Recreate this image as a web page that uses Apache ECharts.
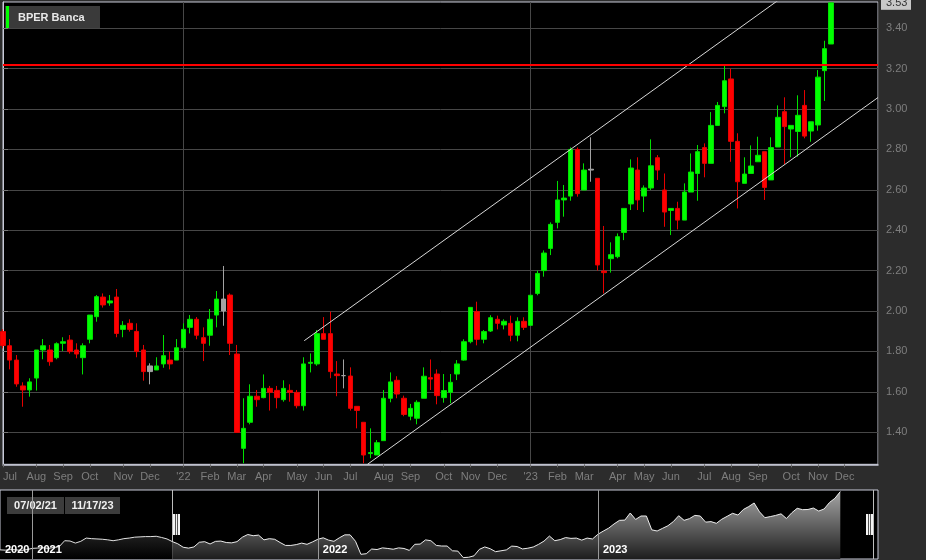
<!DOCTYPE html>
<html><head><meta charset="utf-8">
<script src="https://cdn.jsdelivr.net/npm/echarts@6/dist/echarts.min.js"></script>
<style>html,body{margin:0;padding:0;background:#2c2c2c;}#c{width:926px;height:560px;}</style>
</head><body><div id="c"></div>
<script>
const seriesName = 'BPER Banca';
const startDate = '2021-07-02';
const navStartDate = '2020-11-20';
const monthNames = ['Jan','Feb','Mar','Apr','May','Jun','Jul','Aug','Sep','Oct','Nov','Dec'];
const yTicks = [1.4,1.6,1.8,2.0,2.2,2.4,2.6,2.8,3.0,3.2,3.4];
const opens = [
 1.898,1.828,1.757,1.629,1.609,1.668,1.807,1.807,1.769,1.840,
 1.856,1.807,1.769,1.860,1.972,2.069,2.040,2.069,1.909,1.939,
 1.899,1.807,1.728,1.708,1.738,1.757,1.757,1.818,1.919,1.959,
 1.868,1.880,1.980,2.000,2.079,1.787,1.320,1.449,1.578,1.571,
 1.617,1.607,1.561,1.607,1.597,1.531,1.741,1.738,1.888,1.888,
 1.688,1.680,1.678,1.528,1.449,1.294,1.287,1.358,1.568,1.657,
 1.568,1.479,1.469,1.568,1.670,1.688,1.571,1.597,1.688,1.757,
 1.848,1.997,1.860,1.901,1.959,1.931,1.939,1.880,1.949,1.929,
 2.087,2.200,2.310,2.439,2.550,2.569,2.800,2.599,2.702,2.657,
 2.198,2.259,2.269,2.389,2.530,2.698,2.569,2.609,2.759,2.599,
 2.498,2.508,2.450,2.589,2.681,2.809,2.731,2.919,3.012,3.149,
 2.840,2.632,2.681,2.739,2.789,2.649,2.812,2.987,2.901,2.889,
 3.018,2.891,2.921,3.190,3.322];
const closes = [
 1.829,1.757,1.639,1.609,1.649,1.807,1.828,1.749,1.838,1.848,
 1.799,1.787,1.828,1.980,2.071,2.030,2.050,1.889,1.929,1.909,
 1.799,1.700,1.700,1.728,1.779,1.738,1.818,1.909,1.959,1.880,
 1.840,1.959,2.059,2.059,1.840,1.399,1.419,1.578,1.561,1.617,
 1.597,1.571,1.617,1.597,1.531,1.738,1.746,1.888,1.860,1.700,
 1.680,1.680,1.518,1.508,1.287,1.299,1.348,1.568,1.649,1.589,
 1.488,1.518,1.548,1.677,1.663,1.581,1.606,1.647,1.738,1.848,
 2.018,1.860,1.898,1.967,1.939,1.949,1.880,1.949,1.919,2.078,
 2.186,2.287,2.429,2.550,2.559,2.800,2.581,2.698,2.698,2.228,
 2.190,2.279,2.368,2.508,2.708,2.550,2.609,2.719,2.698,2.490,
 2.508,2.450,2.589,2.688,2.789,2.731,2.919,3.018,3.140,2.840,
 2.640,2.678,2.718,2.771,2.612,2.809,2.959,2.913,2.919,2.969,
 2.866,2.937,3.158,3.299,3.526];
const lows = [
 1.815,1.711,1.625,1.526,1.576,1.606,1.761,1.729,1.761,1.802,
 1.789,1.766,1.686,1.840,1.947,2.017,2.026,1.870,1.870,1.898,
 1.771,1.655,1.637,1.708,1.719,1.711,1.757,1.818,1.889,1.860,
 1.752,1.828,1.919,1.927,1.782,1.399,1.246,1.439,1.526,1.568,
 1.507,1.518,1.551,1.551,1.518,1.507,1.696,1.729,1.860,1.667,
 1.578,1.617,1.507,1.419,1.246,1.271,1.287,1.358,1.548,1.568,
 1.479,1.459,1.439,1.568,1.609,1.538,1.546,1.543,1.658,1.754,
 1.840,1.830,1.840,1.896,1.909,1.909,1.850,1.850,1.906,1.929,
 2.078,2.170,2.277,2.409,2.467,2.546,2.566,2.599,2.640,2.200,
 2.087,2.190,2.261,2.351,2.500,2.500,2.490,2.599,2.649,2.417,
 2.376,2.404,2.450,2.589,2.546,2.662,2.731,2.919,2.979,2.739,
 2.508,2.632,2.681,2.739,2.550,2.649,2.812,2.728,2.761,2.764,
 2.855,2.838,2.893,3.040,3.322];
const highs = [
 1.910,1.861,1.782,1.647,1.667,1.807,1.861,1.832,1.845,1.870,
 1.881,1.840,1.840,1.980,2.079,2.087,2.079,2.109,1.950,1.959,
 1.939,1.832,1.741,1.771,1.881,1.799,1.861,1.939,1.980,1.970,
 1.919,2.010,2.099,2.223,2.087,1.832,1.568,1.637,1.609,1.686,
 1.629,1.629,1.657,1.637,1.609,1.771,1.790,1.906,1.970,1.997,
 1.752,1.760,1.721,1.528,1.449,1.419,1.361,1.609,1.696,1.677,
 1.581,1.540,1.558,1.721,1.760,1.711,1.688,1.688,1.757,1.860,
 2.018,2.046,1.906,1.979,1.977,1.959,1.977,1.969,1.969,2.078,
 2.200,2.300,2.439,2.644,2.624,2.810,2.810,2.731,2.860,2.657,
 2.421,2.340,2.384,2.508,2.751,2.761,2.622,2.850,2.772,2.681,
 2.508,2.541,2.632,2.780,2.822,2.830,2.985,3.035,3.213,3.201,
 2.880,2.761,2.820,2.863,2.789,2.860,3.018,3.058,2.919,3.068,
 3.094,2.937,3.193,3.338,3.526];
const flatIdx = [22, 33, 51, 88];
const navPre = [1.55,1.54,1.56,1.55,1.53,1.56,1.60,1.61,1.62,1.60,1.63,1.66,
 1.86,1.85,1.78,1.84,1.95,1.93,1.92,1.91,1.89,1.86,1.89,1.93,
 1.95,1.98,1.99,2.00,2.00,2.01,1.97,1.92];
const resistance = 3.224;
const upperChannel = [[45.1, 1.853], [117, 3.561]];
const lowerChannel = [[54.57, 1.241], [131, 3.057]];
const lastLabel = '3.53';
const rangeLabels = ['07/02/21', '11/17/23'];
const navSelStart = 32, navSelEnd = 162;

function weekly(start, n) {
  const out = []; const d0 = new Date(start + 'T00:00:00Z');
  for (let i = 0; i < n; i++) out.push(new Date(d0.getTime() + i * 7 * 86400000).toISOString().slice(0, 10));
  return out;
}
const cats = weekly(startDate, 132);
const navCats = weekly(navStartDate, 164);
const isMonthStart = v => +v.slice(8, 10) <= 7;
const isYearStart = v => isMonthStart(v) && v.slice(5, 7) === '01';

const grayStyle = {color:'#a3a3a3', color0:'#a3a3a3', borderColor:'#a3a3a3', borderColor0:'#a3a3a3', borderColorDoji:'#a3a3a3'};
const candleData = opens.map((o, i) => {
  const it = {value: [o, closes[i], lows[i], highs[i]]};
  if (flatIdx.includes(i)) it.itemStyle = grayStyle;
  return it;
});
const navAll = navPre.concat(closes);
const navUnsel = navAll.map((v, i) => i <= navSelStart ? v : '-');
const navSel = navAll.map((v, i) => i >= navSelStart ? v : '-');

const FONT = 'Liberation Sans';
const chart = echarts.init(document.getElementById('c'), null, {renderer: 'canvas'});
const option = {
  animation: false,
  backgroundColor: '#2c2c2c',
  grid: [
    {left: 0, right: 48, top: 2, bottom: 95.7, show: true, backgroundColor: '#000', borderColor: '#c8cad8', borderWidth: 1},
    {left: 0, right: 48, top: 490, height: 69, show: true, backgroundColor: '#000', borderColor: '#c8cad8', borderWidth: 1}
  ],
  xAxis: [
    {type: 'category', gridIndex: 0, data: cats, boundaryGap: false,
     axisLine: {lineStyle: {color: '#c8cad8', width: 1.5}},
     axisTick: {show: true, length: 3, interval: (i, v) => isMonthStart(v) && i < 131, lineStyle: {color: '#6a6a6a'}},
     axisLabel: {interval: (i, v) => isMonthStart(v) && i < 131, margin: 7, color: '#7e7e7e', fontSize: 11, fontFamily: FONT,
       alignMinLabel: 'left',
       formatter: v => { const m = +v.slice(5, 7) - 1; return m === 0 ? "'" + v.slice(2, 4) : monthNames[m]; }},
     splitLine: {show: true, interval: (i, v) => isYearStart(v), lineStyle: {color: '#474747', width: 1}}},
    {type: 'value', gridIndex: 0, min: 0, max: 131, show: false},
    {type: 'category', gridIndex: 1, data: navCats, boundaryGap: false, z: 10,
     axisLine: {show: false}, axisTick: {show: false},
     axisLabel: {inside: true, interval: (i, v) => i === 0 || (isYearStart(v) && i < 160), align: 'left', verticalAlign: 'middle', margin: 9,
       padding: [0, 0, 0, 5], color: '#ffffff', fontSize: 11, fontWeight: 'bold', fontFamily: FONT,
       formatter: v => v.slice(0, 4)},
     splitLine: {show: true, interval: (i, v) => isYearStart(v) && i < 160, lineStyle: {color: '#9a9a9a', width: 1}}}
  ],
  yAxis: [
    {type: 'value', gridIndex: 0, position: 'right', min: 1.241, max: 3.53, scale: true,
     axisLine: {show: true, lineStyle: {color: '#c8cad8'}},
     axisTick: {show: true, length: 5, customValues: yTicks, lineStyle: {color: '#777'}},
     axisLabel: {customValues: yTicks, margin: 8, color: '#7e7e7e', fontSize: 11, fontFamily: FONT, formatter: v => v.toFixed(2)},
     splitLine: {show: true, lineStyle: {color: '#474747', width: 1}}},
    {type: 'value', gridIndex: 1, min: 1.24, max: 3.58, show: false}
  ],
  series: [
    {type: 'candlestick', name: seriesName, xAxisIndex: 0, yAxisIndex: 0, data: candleData, barWidth: 5,
     itemStyle: {color: '#00ff00', color0: '#ff0000', borderColor: '#00e000', borderColor0: '#e60000', borderWidth: 1},
     markLine: {silent: true, symbol: ['none', 'none'], animation: false,
       data: [
         {yAxis: resistance, lineStyle: {color: '#ff0000', width: 2, type: 'solid'}, label: {show: false}}
       ]}},
    {type: 'line', xAxisIndex: 1, yAxisIndex: 0, data: upperChannel, symbol: 'none', silent: true,
     lineStyle: {color: '#d8d8d8', width: 1}},
    {type: 'line', xAxisIndex: 1, yAxisIndex: 0, data: lowerChannel, symbol: 'none', silent: true,
     lineStyle: {color: '#d8d8d8', width: 1}},
    {type: 'line', xAxisIndex: 2, yAxisIndex: 1, data: navUnsel, symbol: 'none', silent: true,
     lineStyle: {color: '#e0e0e0', width: 1},
     areaStyle: {color: new echarts.graphic.LinearGradient(0, 490, 0, 559, [{offset: 0, color: '#5a5a5a'}, {offset: 1, color: '#000'}], true), opacity: 1}},
    {type: 'line', xAxisIndex: 2, yAxisIndex: 1, data: navSel, symbol: 'none', silent: true,
     lineStyle: {color: '#ececec', width: 1},
     areaStyle: {color: new echarts.graphic.LinearGradient(0, 490, 0, 559, [{offset: 0, color: '#a8a8a8'}, {offset: 1, color: '#1e1e1e'}], true), opacity: 1}}
  ]
};
chart.setOption(option);

const p0 = chart.convertToPixel({gridIndex: 1}, [navSelStart, 2]);
const p1 = chart.convertToPixel({gridIndex: 1}, [navSelEnd, 2]);
const pLast = chart.convertToPixel({gridIndex: 0}, [0, closes[closes.length - 1]]);
function handle(x) {
  return {type: 'group', x: x, y: 514, children: [
    {type: 'rect', shape: {x: 0, y: 0, width: 7, height: 21}, style: {fill: '#f4f4f4'}},
    {type: 'line', shape: {x1: 2.5, y1: 0, x2: 2.5, y2: 21}, style: {stroke: '#555', lineWidth: 1}},
    {type: 'line', shape: {x1: 4.5, y1: 0, x2: 4.5, y2: 21}, style: {stroke: '#555', lineWidth: 1}}
  ]};
}
chart.setOption({graphic: [
  {type: 'rect', shape: {x: 5, y: 6, width: 95, height: 22}, style: {fill: '#3a3a3a'}},
  {type: 'rect', shape: {x: 6, y: 6, width: 3, height: 22}, style: {fill: '#00ff00'}},
  {type: 'text', x: 18, y: 17.5, style: {text: seriesName, fill: '#e8e8e8', font: 'bold 11px ' + FONT, verticalAlign: 'middle'}},
  {type: 'rect', shape: {x: 881, y: pLast[1] - 7, width: 30, height: 14}, style: {fill: '#c8c8c8'}},
  {type: 'text', x: 886, y: pLast[1] + 0.5, style: {text: lastLabel, fill: '#333', font: '11px ' + FONT, verticalAlign: 'middle'}},
  {type: 'line', shape: {x1: Math.round(p0[0]) + 0.5, y1: 490, x2: Math.round(p0[0]) + 0.5, y2: 559}, style: {stroke: '#bdbdbd', lineWidth: 1}},
  {type: 'line', shape: {x1: Math.round(p1[0]) + 0.5, y1: 490, x2: Math.round(p1[0]) + 0.5, y2: 559}, style: {stroke: '#bdbdbd', lineWidth: 1}},
  handle(Math.round(p0[0]) + 1),
  handle(Math.round(p1[0]) - 7),
  {type: 'rect', shape: {x: 7, y: 497, width: 57, height: 17}, style: {fill: '#3c3c3c'}},
  {type: 'rect', shape: {x: 65, y: 497, width: 55, height: 17}, style: {fill: '#3c3c3c'}},
  {type: 'text', x: 35.5, y: 506, style: {text: rangeLabels[0], fill: '#f0f0f0', font: 'bold 11px ' + FONT, align: 'center', verticalAlign: 'middle'}},
  {type: 'text', x: 92.5, y: 506, style: {text: rangeLabels[1], fill: '#f0f0f0', font: 'bold 11px ' + FONT, align: 'center', verticalAlign: 'middle'}}
]});
</script></body></html>
